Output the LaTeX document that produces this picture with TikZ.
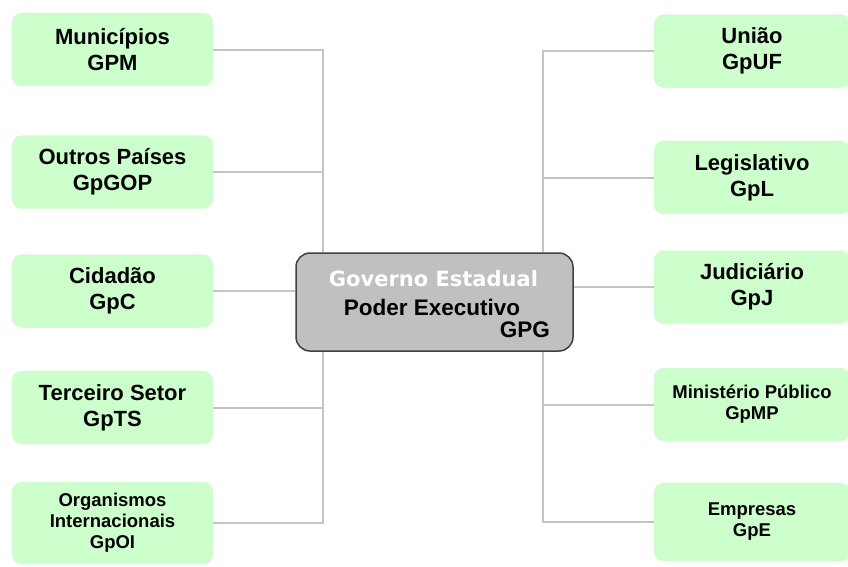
\documentclass[tikz,border=0pt]{standalone}
\usepackage{fontspec}
\setmainfont{Liberation Sans}
\newfontfamily\verdfont{DejaVu Sans}
\definecolor{grpgreen}{HTML}{CCFFCC}
\definecolor{grpedge}{HTML}{E2EEE2}
\definecolor{cengray}{HTML}{C0C0C0}
\definecolor{cenedge}{HTML}{404040}
\definecolor{lnkgray}{HTML}{C4C4C4}

\begin{document}
\begin{tikzpicture}[x=1pt, y=-1pt,
    grp/.style={rectangle, rounded corners=10pt, draw=grpedge, fill=grpgreen, minimum width=201pt, minimum height=73pt, inner sep=0pt, align=center, font=\bfseries\fontsize{22}{26}\selectfont},
    grps/.style={grp, font=\bfseries\fontsize{18.5}{21}\selectfont},
    lnk/.style={draw=lnkgray, line width=2pt},
    gtxt/.style={inner sep=0pt}]
    \useasboundingbox (0,0) rectangle (848,566);
    \clip (0,0) rectangle (848,566);
    \node[grp](gpm)at(112.5,49.5){Municípios\\GPM};
    \node[grp](gpgop)at(112.5,172){Outros Países\\GpGOP};
    \node[grp](gpc)at(112.5,291){Cidadão\\GpC};
    \node[grp](gpts)at(112.5,407.5){Terceiro Setor\\GpTS};
    \node[grps, minimum height=82pt](gpoi)at(112.5,523){Organismos\\Internacionais\\GpOI};
    \node[grp, minimum width=196pt](gpuf)at(752,51){União\\GpUF};
    \node[grp, minimum width=196pt](gpl)at(752,177.5){Legislativo\\GpL};
    \node[grp, minimum width=196pt](gpj)at(752,287){Judiciário\\GpJ};
    \node[grps, minimum width=196pt](gpmp)at(752,404.5){Ministério Público\\GpMP};
    \node[grps, minimum width=196pt, minimum height=78pt](gpe)at(752,522){Empresas\\GpE};
    \node[rectangle, rounded corners=14pt, draw=cenedge, fill=cengray, line width=1.5pt, minimum width=277pt, minimum height=98pt](gpg)at(434.5,302){};
    \node[gtxt, anchor=base, text=white, font=\verdfont\bfseries\fontsize{21}{24}\selectfont](gpg1)at(433.5,286){Governo Estadual};
    \node[gtxt, anchor=base, font=\bfseries\fontsize{22.5}{24}\selectfont](gpg2)at(432,315){Poder Executivo};
    \node[gtxt, anchor=base east, font=\bfseries\fontsize{22.5}{24}\selectfont](gpg3)at(550,337){GPG};
    \coordinate (sl) at (323,0);
    \coordinate (sr) at (543,0);
    \draw[lnk]
    (gpm.east)-|(sl|-gpg.north)
    (gpgop.east)--(gpgop.east-|sl)
    (gpc.east)--(gpc.east-|gpg.west)
    (gpts.east)--(gpts.east-|sl)
    (gpoi.east)-|(sl|-gpg.south)
    (gpuf.west)-|(sr|-gpg.north)
    (gpl.west)--(gpl.west-|sr)
    (gpj.west)--(gpj.west-|gpg.east)
    (gpmp.west)--(gpmp.west-|sr)
    (gpe.west)-|(sr|-gpg.south)
    ;
\end{tikzpicture}
\end{document}
